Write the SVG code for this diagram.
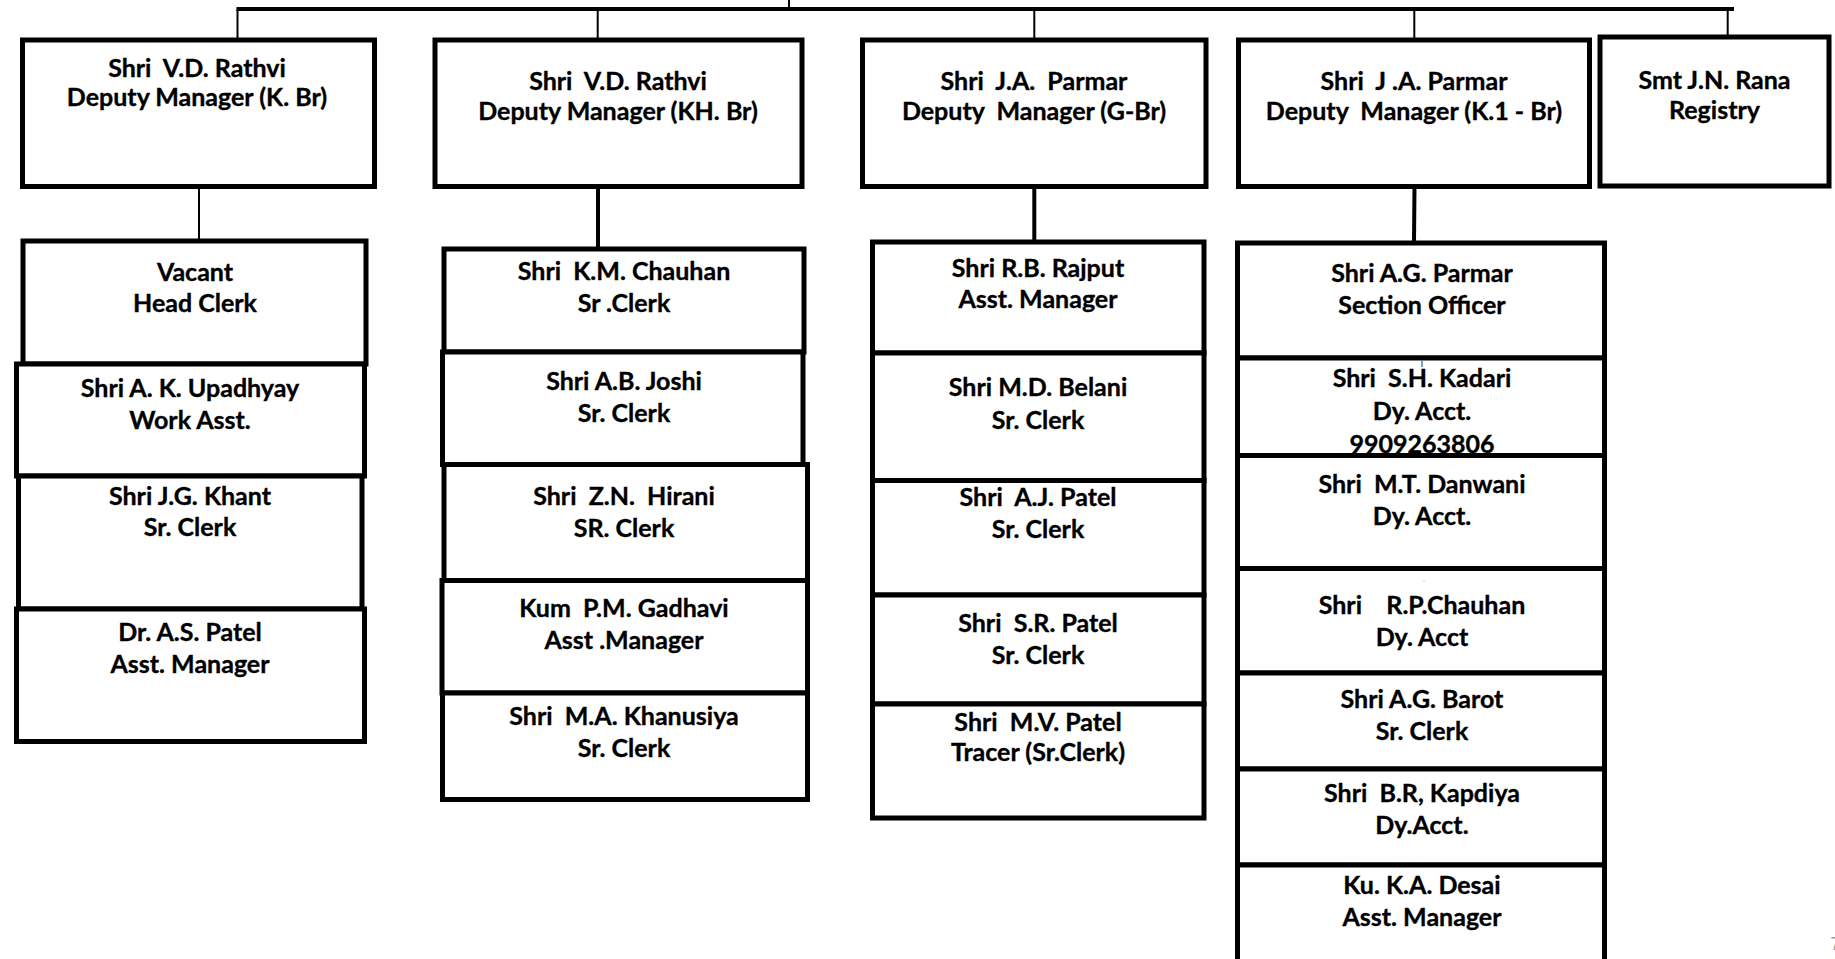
<svg xmlns="http://www.w3.org/2000/svg" width="1835" height="959" viewBox="0 0 1835 959">
<style>
.box{fill:#fff;stroke:#000;stroke-width:5}
.t{font-family:Lato,"Liberation Sans",sans-serif;font-weight:700;font-size:25px;text-anchor:middle;fill:#000;stroke:#000;stroke-width:0.35;white-space:pre}
.c2{stroke:#000;stroke-width:2;fill:none}
.c4{stroke:#000;stroke-width:4;fill:none}
</style>
<rect width="1835" height="959" fill="#fff"/>
<g id="connectors">
<line class="c2" x1="789" y1="0" x2="789" y2="9"/>
<line class="c4" x1="236.5" y1="9" x2="1734" y2="9"/>
<line class="c2" x1="237.5" y1="9" x2="237.5" y2="38"/>
<line class="c2" x1="597.7" y1="9" x2="597.7" y2="38"/>
<line class="c2" x1="1034.3" y1="9" x2="1034.3" y2="38"/>
<line class="c2" x1="1414.3" y1="9" x2="1414.3" y2="38"/>
<line class="c2" x1="1727.7" y1="9" x2="1727.7" y2="35"/>
<line class="c2" x1="199" y1="186" x2="199" y2="240"/>
<line class="c4" x1="598" y1="186" x2="598" y2="248"/>
<line class="c4" x1="1034.3" y1="186" x2="1034.3" y2="241"/>
<line class="c4" x1="1414.5" y1="186" x2="1414" y2="242"/>
</g>
<g id="dm-k-br"><rect class="box" x="22.5" y="40" width="352" height="146.5"/><text class="t" x="197" y="76.7">Shri  V.D. Rathvi</text><text class="t" x="197" y="106">Deputy Manager (K. Br)</text></g>
<g id="dm-kh-br"><rect class="box" x="435" y="40" width="367" height="146.5"/><text class="t" x="618" y="90">Shri  V.D. Rathvi</text><text class="t" x="618" y="120">Deputy Manager (KH. Br)</text></g>
<g id="dm-g-br"><rect class="box" x="862.5" y="40" width="343.5" height="146.5"/><text class="t" x="1034" y="90">Shri  J.A.  Parmar</text><text class="t" x="1034" y="120">Deputy  Manager (G-Br)</text></g>
<g id="dm-k1-br"><rect class="box" x="1238.5" y="40" width="351" height="146.5"/><text class="t" x="1414" y="90">Shri  J .A. Parmar</text><text class="t" x="1414" y="120">Deputy  Manager (K.1 - Br)</text></g>
<g id="registry"><rect class="box" x="1600" y="37" width="229" height="149"/><text class="t" x="1714.5" y="89">Smt J.N. Rana</text><text class="t" x="1714.5" y="119">Registry</text></g>

<g id="vacant"><rect class="box" x="23" y="241" width="343" height="123"/><text class="t" x="195" y="280.6">Vacant</text><text class="t" x="195" y="312">Head Clerk</text></g>
<g id="upadhyay"><rect class="box" x="16.5" y="364" width="348" height="112"/><text class="t" x="190" y="397.2">Shri A. K. Upadhyay</text><text class="t" x="190" y="428.6">Work Asst.</text></g>
<g id="khant"><rect class="box" x="18.5" y="476" width="343.5" height="133"/><text class="t" x="190" y="504.5">Shri J.G. Khant</text><text class="t" x="190" y="535.9">Sr. Clerk</text></g>
<g id="as-patel"><rect class="box" x="16.5" y="609" width="348" height="132.5"/><text class="t" x="190" y="640.6">Dr. A.S. Patel</text><text class="t" x="190" y="672.8">Asst. Manager</text></g>

<g id="km-chauhan"><rect class="box" x="444" y="249" width="360" height="103"/><text class="t" x="624" y="279.8">Shri  K.M. Chauhan</text><text class="t" x="624" y="311.6">Sr .Clerk</text></g>
<g id="joshi"><rect class="box" x="442.5" y="352" width="360.5" height="112.5"/><text class="t" x="624" y="390">Shri A.B. Joshi</text><text class="t" x="624" y="421.8">Sr. Clerk</text></g>
<g id="hirani"><rect class="box" x="444" y="464.5" width="363.5" height="116"/><text class="t" x="624" y="505">Shri  Z.N.  Hirani</text><text class="t" x="624" y="537">SR. Clerk</text></g>
<g id="gadhavi"><rect class="box" x="442" y="580.5" width="365.5" height="112.5"/><text class="t" x="624" y="616.5">Kum  P.M. Gadhavi</text><text class="t" x="624" y="649">Asst .Manager</text></g>
<g id="khanusiya"><rect class="box" x="442.5" y="693" width="365" height="106.5"/><text class="t" x="624" y="724.7">Shri  M.A. Khanusiya</text><text class="t" x="624" y="756.5">Sr. Clerk</text></g>

<g id="rajput"><rect class="box" x="872.5" y="242" width="331.5" height="111"/><text class="t" x="1038" y="276.5">Shri R.B. Rajput</text><text class="t" x="1038" y="308.4">Asst. Manager</text></g>
<g id="belani"><rect class="box" x="872.5" y="353" width="331.5" height="127.5"/><text class="t" x="1038" y="396">Shri M.D. Belani</text><text class="t" x="1038" y="428.8">Sr. Clerk</text></g>
<g id="aj-patel"><rect class="box" x="872.5" y="480.5" width="331.5" height="114.5"/><text class="t" x="1038" y="506">Shri  A.J. Patel</text><text class="t" x="1038" y="537.8">Sr. Clerk</text></g>
<g id="sr-patel"><rect class="box" x="872.5" y="595" width="331.5" height="109"/><text class="t" x="1038" y="631.6">Shri  S.R. Patel</text><text class="t" x="1038" y="663.5">Sr. Clerk</text></g>
<g id="mv-patel"><rect class="box" x="872.5" y="704" width="331.5" height="114"/><text class="t" x="1038" y="730.8">Shri  M.V. Patel</text><text class="t" x="1038" y="761.4">Tracer (Sr.Clerk)</text></g>

<g id="ag-parmar"><rect class="box" x="1237.5" y="243" width="367" height="115"/><text class="t" x="1422" y="282.2">Shri A.G. Parmar</text><text class="t" x="1422" y="313.6">Section Officer</text></g>
<g id="kadari"><rect class="box" x="1237.5" y="358" width="367" height="97.5"/><line x1="1422" y1="361" x2="1422" y2="367" stroke="#4a7fc1" stroke-width="1.5"/><text class="t" x="1422" y="386.7">Shri  S.H. Kadari</text><text class="t" x="1422" y="420">Dy. Acct.</text><text class="t" x="1422" y="452.5">9909263806</text></g>
<g id="danwani"><rect class="box" x="1237.5" y="455.5" width="367" height="113"/><text class="t" x="1422" y="492.6">Shri  M.T. Danwani</text><text class="t" x="1422" y="525">Dy. Acct.</text></g>
<g id="rp-chauhan"><rect class="box" x="1237.5" y="568.5" width="367" height="104.5"/><rect x="1423.5" y="580.5" width="1" height="1" fill="#6a9ad0"/><text class="t" x="1422" y="614">Shri    R.P.Chauhan</text><text class="t" x="1422" y="646">Dy. Acct</text></g>
<g id="barot"><rect class="box" x="1237.5" y="673" width="367" height="96"/><text class="t" x="1422" y="708.4">Shri A.G. Barot</text><text class="t" x="1422" y="740.3">Sr. Clerk</text></g>
<g id="kapdiya"><rect class="box" x="1237.5" y="769" width="367" height="96"/><text class="t" x="1422" y="802">Shri  B.R, Kapdiya</text><text class="t" x="1422" y="834">Dy.Acct.</text></g>
<g id="desai"><rect class="box" x="1237.5" y="865" width="367" height="120"/><text class="t" x="1422" y="893.8">Ku. K.A. Desai</text><text class="t" x="1422" y="925.6">Asst. Manager</text></g>
<text x="1830.5" y="950" font-family="Liberation Sans, sans-serif" font-size="18" fill="#999">7</text>
</svg>
